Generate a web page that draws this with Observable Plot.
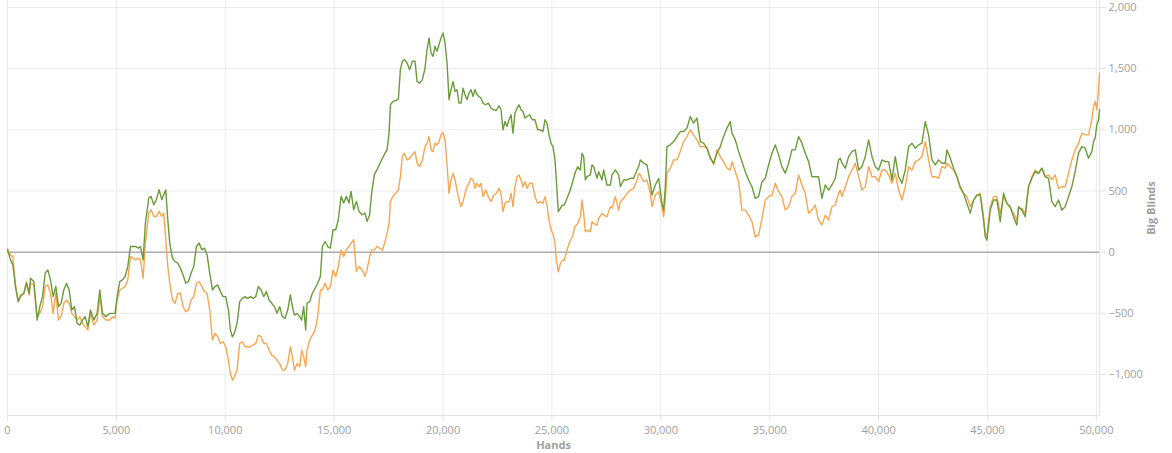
<!DOCTYPE html>
<html>
<head>
<meta charset="utf-8">
<script src="https://cdn.jsdelivr.net/npm/d3@7"></script>
<script src="https://cdn.jsdelivr.net/npm/@observablehq/plot@0.6"></script>
<style>
  html, body { margin: 0; padding: 0; background: #fff; }
  #chart svg { display: block; }
  #chart [aria-label="y-axis label"], #chart [aria-label="x-axis label"] { font-weight: bold; }
</style>
</head>
<body>
<div id="chart"></div>
<script>
// Hands played (x) for each sample
const hands = [
0,138,245,367,490,597,750,872,995,1056,1209,1301,1362,1484,1607,1729,1852,1974,2096,2219,
2341,2464,2586,2708,2831,2953,3076,3198,3320,3443,3565,3688,3810,3963,4116,4238,4361,4514,4697,4820,
4942,5034,5156,5279,5401,5524,5646,5768,5891,6013,6105,6227,6334,6487,6595,6717,6839,6962,7084,7176,
7268,7360,7451,7574,7696,7819,7941,8063,8186,8308,8431,8553,8675,8798,8920,9043,9165,9287,9410,9532,
9655,9777,9899,10022,10144,10236,10328,10420,10542,10664,10787,10909,11032,11154,11276,11399,11521,11644,11766,11888,
12011,12133,12256,12378,12500,12623,12745,12868,12990,13082,13174,13296,13418,13510,13602,13694,13755,13877,14000,14122,
14245,14367,14459,14581,14704,14826,14948,15071,15193,15316,15438,15560,15683,15775,15897,16019,16142,16295,16417,16509,
16631,16723,16846,16968,
17216,17338,17430,17522,17583,17705,17828,17950,18042,18134,18226,18348,18470,18593,18715,18807,18929,19052,19174,19266,
19358,19450,19541,19633,19725,19817,19909,20000,20092,20184,20276,20368,20459,20551,20643,20735,20827,20918,21010,21102,
21194,21286,21377,21469,21561,21653,21745,21836,21959,22081,22204,22326,22448,22571,22663,22754,22846,22938,23030,23122,
23213,23305,23397,23489,23581,23672,23764,23856,23978,24101,24223,24346,24468,24590,24682,24774,24866,24958,25049,25141,
25202,25294,25386,25478,25570,25692,25814,25937,26059,26182,
26306,26383,26459,26536,26612,26765,26842,26918,27071,27148,27301,27377,27530,27683,27760,27913,28066,28142,28295,28448,
28601,28754,28907,28984,29060,29213,29366,29519,29596,29749,29902,30055,30131,30208,30284,30437,30590,30743,30896,31049,
31202,31355,31508,31661,31814,31967,32120,32273,32426,32579,32732,32885,33038,33191,33268,33421,33574,33727,33880,34033,
34186,34339,34492,34645,34798,34951,35104,35257,35410,35563,35716,35869,36022,36175,36328,36481,36634,36787,36940,37093,
37246,37399,37552,37705,37858,38011,38164,38240,
38320,38473,38626,38779,38932,39085,39238,39391,39544,39697,39850,40003,40156,40309,40462,40615,40768,40921,41074,41227,
41380,41533,41686,41839,41992,42145,42298,42451,42604,42757,42910,43063,43139,43292,43445,43598,43751,43904,44057,44210,
44363,44516,44669,44822,44899,44975,45128,45281,45434,45587,45740,45893,46046,46199,46352,46428,46581,46734,46887,47040,
47193,47346,47499,47652,47805,47958,48111,48264,48417,48570,48723,48876,49029,49182,49335,49488,49641,49794,49871,49947,
50024,50101,50146
];

// Green line (big blinds won)
const netWon = [
19,-63,-104,-281,-404,-363,-336,-254,-336,-213,-240,-418,-555,-445,-363,-172,-145,-227,-363,-281,
-445,-418,-309,-254,-309,-473,-445,-582,-596,-555,-527,-609,-473,-555,-500,-309,-500,-527,-500,-500,
-500,-363,-240,-227,-199,-117,46,46,46,33,46,-63,238,443,456,388,429,511,429,470,
511,265,74,-49,-76,-90,-131,-186,-254,-240,-172,-117,46,74,19,33,-22,-172,-309,-281,
-268,-322,-363,-363,-473,-637,-691,-664,-582,-404,-377,-363,-377,-363,-377,-363,-281,-309,-363,-322,
-391,-418,-445,-500,-445,-527,-541,-473,-350,-445,-514,-500,-527,-555,-445,-637,-418,-404,-336,-295,
-254,-199,46,87,46,33,183,183,265,456,402,456,402,497,347,415,333,306,320,251,
306,484,634,675,
768,809,836,973,1205,1232,1240,1251,1492,1560,1574,1546,1492,1560,1560,1396,1382,1410,1505,1656,
1751,1628,1601,1683,1642,1697,1751,1792,1710,1546,1246,1328,1396,1314,1328,1218,1218,1341,1287,1246,
1300,1328,1273,1328,1287,1273,1259,1218,1205,1218,1177,1164,1158,1197,1164,1000,1068,1027,1082,1123,
973,1137,1177,1205,1164,1150,1096,1109,1123,1082,1082,1000,1000,986,1082,1055,959,891,863,754,
590,331,358,385,385,440,494,563,645,699,
672,809,781,590,617,631,713,699,604,658,590,672,549,549,631,672,631,535,590,590,
604,604,672,699,754,727,713,563,467,549,604,399,344,535,863,877,904,945,986,986,
1014,1109,1055,1096,904,891,850,768,727,809,863,945,1014,1068,973,918,822,740,658,590,
535,440,454,576,604,713,809,877,795,699,645,727,836,836,945,891,809,740,617,617,
617,440,549,508,549,604,754,768,
727,686,781,822,836,672,699,781,918,781,699,672,754,740,740,590,781,617,563,672,
863,891,850,877,891,1068,959,754,713,754,727,727,836,768,686,617,535,481,399,317,
426,467,467,262,126,98,344,426,426,249,481,399,372,290,221,372,344,290,535,604,
658,645,686,617,604,413,372,426,344,372,454,535,658,809,863,850,768,822,904,932,
1041,1082,1164
];

// Orange line (all-in EV)
const allInEV = [
27,-22,-36,-268,-404,-350,-336,-240,-350,-254,-268,-445,-527,-500,-445,-281,-268,-336,-500,-336,
-555,-527,-418,-391,-418,-500,-527,-555,-527,-582,-609,-637,-500,-596,-555,-363,-527,-555,-555,-527,
-541,-391,-309,-295,-281,-227,-36,-49,-63,-49,-63,-213,74,320,347,292,292,333,292,320,
101,-117,-254,-391,-418,-336,-336,-445,-486,-473,-391,-363,-254,-240,-281,-322,-336,-473,-718,-664,
-691,-746,-732,-773,-882,-992,-1046,-1019,-964,-746,-732,-773,-773,-773,-759,-746,-678,-691,-746,-746,
-800,-841,-855,-882,-910,-964,-964,-910,-773,-855,-964,-910,-937,-800,-855,-937,-800,-718,-678,-637,
-527,-309,-309,-254,-309,-281,-145,-199,-117,19,-36,19,46,74,101,-158,-117,-145,-199,-145,
-36,19,19,46,
16,85,153,235,413,459,481,508,617,787,809,754,768,795,822,727,699,754,863,891,
945,836,822,891,877,904,959,978,918,713,481,590,645,590,508,426,372,413,481,535,
563,604,590,522,563,535,563,454,508,454,413,467,481,522,481,331,399,413,413,481,
372,535,617,631,590,535,576,522,563,563,454,399,413,399,454,385,262,180,153,71,
-66,-161,-93,-66,-66,16,85,126,208,235,
290,426,317,167,180,167,249,235,221,276,317,303,290,372,358,454,344,413,440,481,
508,522,590,645,631,576,590,481,372,467,494,372,290,426,645,686,754,754,822,904,
945,1000,959,918,863,863,850,781,713,836,781,740,686,672,740,658,576,344,344,303,
249,126,139,276,426,454,467,563,494,454,344,372,454,481,631,549,481,317,344,385,
262,221,303,262,372,385,481,508,
454,535,617,672,727,617,508,535,699,617,617,576,672,672,631,563,645,508,426,535,
699,672,740,754,781,904,754,617,617,604,699,686,727,699,672,617,522,481,454,372,
426,467,481,290,153,126,372,454,454,317,454,399,358,317,262,358,358,317,535,617,
672,645,686,617,631,590,631,522,535,535,645,754,836,891,973,959,959,1082,1191,1232,
1164,1328,1464
];

const xTicks = [0, 5000, 10000, 15000, 20000, 25000, 30000, 35000, 40000, 45000, 50000];
const yTicks = [-1000, -500, 0, 500, 1000, 1500, 2000];
const xDomain = [0, 50146];
const yDomain = [-1335, 2057];

const gridColor = "#ebebeb";
const textColor = "#a0a0a0";
const greenColor = "#6b9c3a";
const orangeColor = "#f8a650";

const chart = Plot.plot({
  width: 1172,
  height: 453,
  marginLeft: 7,
  marginRight: 73,
  marginTop: 0,
  marginBottom: 38,
  style: {fontFamily: "'Open Sans', 'Noto Sans', sans-serif", fontSize: "11px", color: textColor, background: "#fff"},
  x: {domain: xDomain},
  y: {domain: yDomain},
  marks: [
    Plot.gridX(xTicks, {stroke: gridColor, strokeOpacity: 1}),
    Plot.gridY(yTicks, {stroke: gridColor, strokeOpacity: 1}),
    Plot.ruleY([yDomain[0]], {stroke: "#e3e3e3", strokeOpacity: 1}),
    Plot.ruleX([xDomain[1]], {stroke: "#e3e3e3", strokeOpacity: 1}),
    Plot.ruleY([0], {stroke: "#8c8c8c", strokeWidth: 1}),
    Plot.line(hands, {x: hands, y: allInEV, stroke: orangeColor, strokeWidth: 1.4}),
    Plot.line(hands, {x: hands, y: netWon, stroke: greenColor, strokeWidth: 1.4}),
    Plot.axisX({
      ticks: xTicks, tickFormat: d3.format(","), tickSize: 6, tickPadding: 5,
      stroke: "#e3e3e3", fill: textColor,
      label: "Hands", labelArrow: "none", labelAnchor: "center", labelOffset: 33
    }),
    Plot.axisY({
      anchor: "right", ticks: yTicks, tickFormat: d3.format(","), tickSize: 6, tickPadding: 3,
      stroke: "#e3e3e3", fill: textColor, textAnchor: "start",
      label: "Big Blinds", labelArrow: "none", labelAnchor: "center", labelOffset: 55
    })
  ]
});
document.getElementById("chart").appendChild(chart);
</script>
</body>
</html>
